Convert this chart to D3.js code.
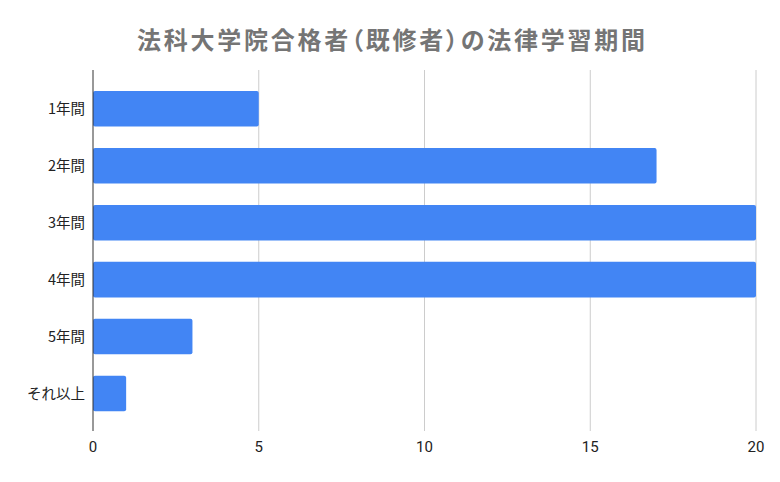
<!DOCTYPE html>
<html><head><meta charset="utf-8">
<script src="https://cdn.jsdelivr.net/npm/d3@7"></script>
<style>body{margin:0;background:#fff}</style>
</head><body>
<svg id="c" width="780" height="482"></svg>
<script>
const categories = ["1年間","2年間","3年間","4年間","5年間","それ以上"];
const values = [5, 17, 20, 20, 3, 1];
const xTicks = [0, 5, 10, 15, 20];
const title = "法科大学院合格者（既修者）の法律学習期間";

const svg = d3.select("#c");
const font = "'Noto Sans CJK JP', 'Noto Sans', sans-serif";
const x = d3.scaleLinear().domain([0, 20]).range([93, 756]);
const y = d3.scaleBand().domain(categories).range([80.3, 422]).paddingInner(0.375).paddingOuter(0.1875);
const plotTop = 70, plotBottom = 431;

svg.append("rect").attr("width",780).attr("height",482).attr("fill","#fff");

svg.append("text").attr("x",137).attr("y",49)
  .attr("font-family",font).attr("font-weight","bold").attr("font-size",24)
  .style("font-feature-settings","'palt'")
  .attr("textLength",508).attr("lengthAdjust","spacing")
  .attr("fill","#757575").text(title);

// gridlines
svg.append("g").selectAll("line").data(xTicks.filter(d=>d>0)).join("line")
  .attr("x1",d=>x(d)).attr("x2",d=>x(d)).attr("y1",plotTop).attr("y2",plotBottom)
  .attr("stroke","#cccccc").attr("stroke-width",1);

// bars
svg.append("g").selectAll("rect").data(categories).join("rect")
  .attr("x",x(0)).attr("y",d=>y(d))
  .attr("width",(d,i)=>x(values[i])-x(0)).attr("height",y.bandwidth())
  .attr("rx",2).attr("fill","#4285f4");

// axis line
svg.append("line").attr("x1",x(0)).attr("x2",x(0)).attr("y1",plotTop).attr("y2",plotBottom)
  .attr("stroke","#333").attr("stroke-width",1);

// category labels
svg.append("g").selectAll("text").data(categories).join("text")
  .attr("x",85).attr("y",d=>y(d)+y.bandwidth()/2).attr("dy","0.35em")
  .attr("text-anchor","end").attr("font-family",font).attr("font-size",14.5)
  .attr("fill","#222").text(d=>d);

// x tick labels
svg.append("g").selectAll("text").data(xTicks).join("text")
  .attr("x",d=>x(d)).attr("y",447).attr("dy","0.35em")
  .attr("text-anchor","middle").attr("font-family","Roboto, sans-serif").attr("font-size",15)
  .attr("fill","#222").text(d=>d);
</script>
</body></html>
